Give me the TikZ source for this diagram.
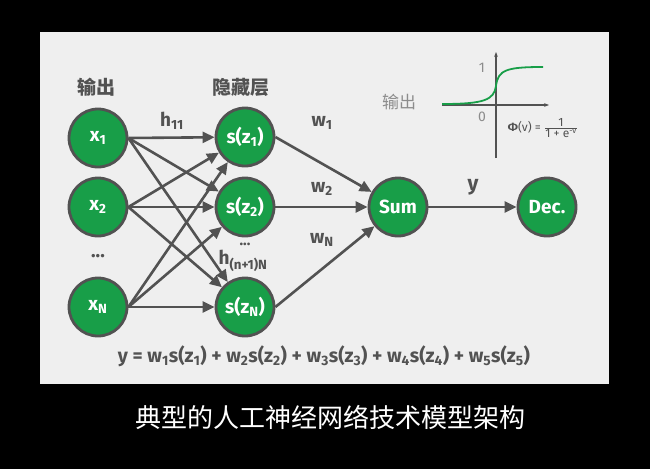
\documentclass[tikz,border=0pt]{standalone}
\usepackage{fontspec}
\setmainfont{Fira Sans}
\newfontfamily\cjk{Noto Sans CJK SC}
\usetikzlibrary{arrows.meta,positioning}
\definecolor{nngreen}{RGB}{24,158,72}
\definecolor{nngray}{RGB}{82,82,82}
\definecolor{nnlight}{RGB}{140,140,140}
\definecolor{nnpanel}{RGB}{239,239,239}

\begin{document}
\begin{tikzpicture}[x=1pt,y=-1pt,
  unit/.style={circle, draw=nngray, line width=2.8pt, fill=nngreen, minimum size=58pt, inner sep=0pt, text=white, font=\fontsize{19}{19}\selectfont\bfseries},
  link/.style={nngray, line width=2.6pt, -{Triangle[length=12pt,width=11pt]}},
  lbl/.style={text=nngray, font=\fontsize{19}{19}\selectfont\bfseries},
  head/.style={text=nngray, font=\fontsize{19}{19}\selectfont\cjk\bfseries}]
% Background
\fill[black] (0,0) rectangle (650,469);
\useasboundingbox (0,0) rectangle (650,469);
\fill[nnpanel] (40,32) rectangle (609,384);
% Headings
\node[head] (hin) at (96,87) {输出};
\node[head] (hhid) at (241,87) {隐藏层};
% Input layer
\node[unit] (x1) at (98,138) {x\textsubscript{1}};
\node[unit] (x2) at (98,207) {x\textsubscript{2}};
\node[lbl] (xdots) at (98,256) {...};
\node[unit] (xN) at (98,307) {x\textsubscript{N}};
% Hidden layer
\node[unit] (s1) at (245,137) {s(z\textsubscript{1})};
\node[unit] (s2) at (245,207) {s(z\textsubscript{2})};
\node[lbl, font=\fontsize{15}{15}\selectfont\bfseries] (sdots) at (245,244) {...};
\node[unit] (sN) at (245,307) {s(z\textsubscript{N})};
% Output side
\node[unit] (sum) at (398,207) {Sum};
\node[unit] (dec) at (547,207) {Dec.};
% Connections
\foreach \i in {x1,x2,xN}
  \foreach \j in {s1,s2,sN}
    \draw[link] (\i.east) -- (\j);
\foreach \j in {s1,s2,sN}
  \draw[link] (\j.east) -- (sum);
\draw[link] (sum) -- (dec);
% Weight labels
\node[lbl] (h11) at (172,121) {h\textsubscript{11}};
\node[lbl] (hnN) at (243,261) {h\textsubscript{(n+1)N}};
\node[lbl] (w1) at (322,123) {w\textsubscript{1}};
\node[lbl] (w2) at (322,189) {w\textsubscript{2}};
\node[lbl] (wN) at (322,240) {w\textsubscript{N}};
\node[lbl, font=\fontsize{21}{21}\selectfont\bfseries] (yout) at (473,187) {y};
% Activation sketch
\draw[nngray, line width=1.3pt, -{Stealth[length=5pt]}] (442,105) -- (549,105);
\draw[nngray, line width=1.3pt, -{Stealth[length=5pt]}] (496,158) -- (496,52);
\draw[nngreen, line width=1.8pt] (442,104) .. controls (484,104) and (494,100) .. (496,86) .. controls (498,70) and (506,67) .. (543,67);
\node[text=nnlight, font=\fontsize{17}{17}\selectfont\cjk] (gout) at (399,102) {输出};
\node[text=nnlight, font=\fontsize{14}{14}\selectfont] (one) at (482,68) {1};
\node[text=nnlight, font=\fontsize{14}{14}\selectfont] (zero) at (482,117) {0};
\node[text=nngray, font=\fontsize{12}{12}\selectfont] (phi) at (543,128) {\textbf{Φ}(v) = $\frac{\mbox{1}}{\mbox{1 + e\textsuperscript{-v}}}$};
% Formula and caption
\node[lbl, font=\fontsize{19.5}{19.5}\selectfont\bfseries] (eq) at (324,356) {y = w\textsubscript{1}s(z\textsubscript{1}) + w\textsubscript{2}s(z\textsubscript{2}) + w\textsubscript{3}s(z\textsubscript{3}) + w\textsubscript{4}s(z\textsubscript{4}) + w\textsubscript{5}s(z\textsubscript{5})};
\node[text=white, font=\fontsize{26}{26}\selectfont\cjk] (cap) at (330,417) {典型的人工神经网络技术模型架构};
\end{tikzpicture}
\end{document}
